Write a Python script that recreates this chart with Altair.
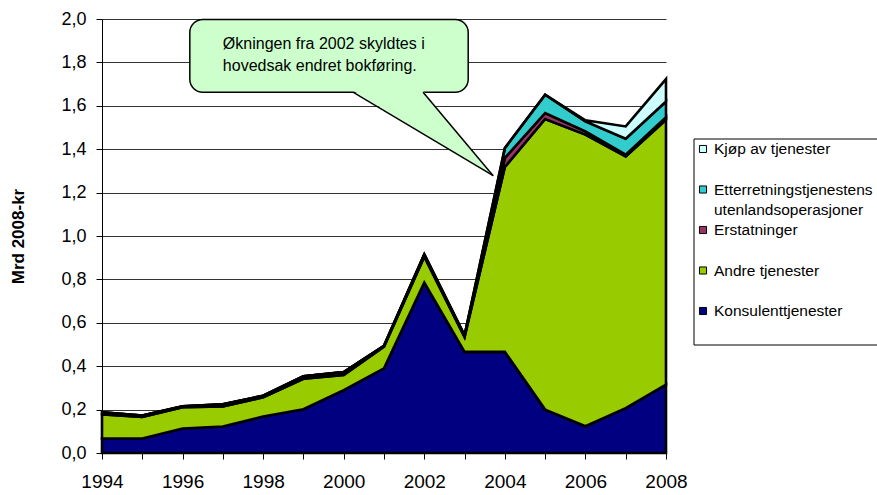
import altair as alt
import pandas as pd

# Annual costs, billion 2008-NOK, per category
years = [1994, 1995, 1996, 1997, 1998, 1999, 2000, 2001, 2002, 2003, 2004, 2005, 2006, 2007, 2008]
konsulent = [0.067, 0.067, 0.113, 0.122, 0.168, 0.202, 0.290, 0.390, 0.785, 0.466, 0.466, 0.200, 0.123, 0.207, 0.315]
andre = [0.111, 0.099, 0.098, 0.092, 0.089, 0.140, 0.070, 0.100, 0.120, 0.069, 0.852, 1.339, 1.344, 1.160, 1.221]
erstatninger = [0.010, 0.007, 0.004, 0.010, 0.007, 0.012, 0.013, 0.004, 0.010, 0.006, 0.042, 0.028, 0.015, 0.008, 0.012]
etterretning = [0.0, 0.0, 0.0, 0.0, 0.0, 0.0, 0.0, 0.0, 0.0, 0.0, 0.045, 0.084, 0.046, 0.073, 0.072]
kjop = [0.0, 0.0, 0.0, 0.0, 0.0, 0.0, 0.0, 0.0, 0.0, 0.0, 0.0, 0.0, 0.005, 0.057, 0.103]

series_names = [
    "Konsulenttjenester",
    "Andre tjenester",
    "Erstatninger",
    "Etterretningstjenestens utenlandsoperasjoner",
    "Kjøp av tjenester",
]
series_values = [konsulent, andre, erstatninger, etterretning, kjop]
series_colors = ["#000080", "#99CC00", "#993366", "#33CCCC", "#CCFFFF"]

y_ticks = [0.0, 0.2, 0.4, 0.6, 0.8, 1.0, 1.2, 1.4, 1.6, 1.8, 2.0]

# Callout box and pointer (in data units)
callout_lines = ["Økningen fra 2002 skyldtes i", "hovedsak endret bokføring."]
callout_box = {"x": 1996.18, "x2": 2003.09, "y": 1.662, "y2": 1.998}
callout_base = {"x": 2000.24, "x2": 2001.97, "y": 1.668}
callout_tip = {"x": 2003.71, "y": 1.278}
callout_text_x = 1997.0
callout_text_y = [1.885, 1.782]

# Legend entries, top to bottom
legend_items = [
    ("Kjøp av tjenester", ["Kjøp av tjenester"]),
    ("Etterretningstjenestens utenlandsoperasjoner", ["Etterretningstjenestens", "utenlandsoperasjoner"]),
    ("Erstatninger", ["Erstatninger"]),
    ("Andre tjenester", ["Andre tjenester"]),
    ("Konsulenttjenester", ["Konsulenttjenester"]),
]

FONT = "Liberation Sans, Arial, sans-serif"

rows = []
for i, (name, vals) in enumerate(zip(series_names, series_values)):
    for yr, v in zip(years, vals):
        rows.append({"series": name, "year": yr, "value": v, "idx": i})
df = pd.DataFrame(rows)

color_scale = alt.Scale(domain=series_names, range=series_colors)
x_scale = alt.Scale(domain=[years[0], years[-1]], nice=False, zero=False)
y_scale = alt.Scale(domain=[0, 2], nice=False)

x_axis = alt.Axis(
    values=years,
    labelExpr="datum.value % 2 == 0 ? '' + datum.value : ''",
    labelOverlap=False,
    labelFlush=False,
    labelBound=False,
    grid=False,
    title=None,
    labelFontSize=19,
    labelPadding=13,
    tickSize=6,
)
y_axis = alt.Axis(
    values=y_ticks,
    labelExpr="replace(format(datum.value, '.1f'), '.', ',')",
    labelFlush=False,
    grid=True,
    gridColor="#000000",
    gridOpacity=0.8,
    gridWidth=1,
    labelFontSize=18,
    labelPadding=10,
    tickSize=6,
    title="Mrd 2008-kr",
    titleFontSize=17,
    titleFontWeight="bold",
    titleAngle=270,
    titleAlign="center",
    titleBaseline="alphabetic",
    titleX=-79,
    titleY=217,
)

areas = alt.Chart(df).mark_area(
    stroke="#000000", strokeWidth=2.6, interpolate="linear", strokeJoin="miter"
).encode(
    x=alt.X("year:Q", scale=x_scale, axis=x_axis),
    y=alt.Y("value:Q", stack="zero", scale=y_scale, axis=y_axis),
    color=alt.Color("series:N", scale=color_scale, legend=None),
    order=alt.Order("idx:Q"),
)

box_df = pd.DataFrame([callout_box])
box = alt.Chart(box_df).mark_rect(
    fill="#CCFFCC", stroke="#000000", strokeWidth=1.5, cornerRadius=13
).encode(
    x=alt.X("x:Q", scale=x_scale, axis=x_axis),
    x2="x2:Q",
    y=alt.Y("y:Q", scale=y_scale, axis=y_axis),
    y2="y2:Q",
)

tri_df = pd.DataFrame([
    {"py": callout_base["y"], "left": callout_base["x"], "right": callout_base["x2"]},
    {"py": callout_tip["y"], "left": callout_tip["x"], "right": callout_tip["x"]},
])
pointer = alt.Chart(tri_df).mark_area(orient="horizontal", fill="#CCFFCC", stroke=None).encode(
    y=alt.Y("py:Q", scale=y_scale, axis=y_axis),
    x=alt.X("left:Q", scale=x_scale, axis=x_axis),
    x2="right:Q",
)

edge_df = pd.DataFrame([
    {"ex": callout_base["x"], "ey": callout_box["y"], "tx": callout_tip["x"], "ty": callout_tip["y"]},
    {"ex": callout_base["x2"], "ey": callout_box["y"], "tx": callout_tip["x"], "ty": callout_tip["y"]},
])
edges = alt.Chart(edge_df).mark_rule(color="#000000", strokeWidth=1.5).encode(
    x=alt.X("ex:Q", scale=x_scale, axis=x_axis),
    y=alt.Y("ey:Q", scale=y_scale, axis=y_axis),
    x2="tx:Q",
    y2="ty:Q",
)

text_df = pd.DataFrame({"tx": [callout_text_x, callout_text_x], "ty": callout_text_y, "t": callout_lines})
callout_text = alt.Chart(text_df).mark_text(
    align="left", baseline="middle", font=FONT, fontSize=16, color="#000000"
).encode(
    x=alt.X("tx:Q", scale=x_scale, axis=x_axis),
    y=alt.Y("ty:Q", scale=y_scale, axis=y_axis),
    text="t:N",
)

# Legend drawn to the right of the plot area (pixel offsets from the plot origin)
one = pd.DataFrame({"k": [0]})
legend_layers = [
    alt.Chart(one).mark_rect(fill="#FFFFFF", stroke="#000000", strokeWidth=1).encode(
        x=alt.value(592), x2=alt.value(900), y=alt.value(120), y2=alt.value(326)
    )
]
entry_top = 130.0
entry_step = 40.5
line_step = 20.0
for i, (name, lines) in enumerate(legend_items):
    cy = entry_top + i * entry_step
    legend_layers.append(
        alt.Chart(pd.DataFrame({"series": [name]})).mark_square(
            size=50, stroke="#000000", strokeWidth=1, opacity=1
        ).encode(
            x=alt.value(601),
            y=alt.value(cy),
            color=alt.Color("series:N", scale=color_scale, legend=None),
        )
    )
    for j, line in enumerate(lines):
        legend_layers.append(
            alt.Chart(pd.DataFrame({"t": [line]})).mark_text(
                align="left", baseline="middle", font=FONT, fontSize=15.5, color="#000000"
            ).encode(
                x=alt.value(612),
                y=alt.value(cy + j * line_step),
                text="t:N",
            )
        )

chart = alt.layer(areas, box, pointer, edges, callout_text, *legend_layers).properties(
    width=564,
    height=434,
    autosize=alt.AutoSizeParams(type="none"),
    padding={"left": 102, "top": 19, "right": 211, "bottom": 42},
    background="#FFFFFF",
).configure_view(
    stroke=None
).configure_axis(
    labelFont=FONT,
    titleFont=FONT,
    labelColor="#000000",
    titleColor="#000000",
    domainColor="#000000",
    domainWidth=1,
    tickColor="#000000",
    tickWidth=1,
)

chart.save("out.html", embed_options={"renderer": "svg", "actions": False})
